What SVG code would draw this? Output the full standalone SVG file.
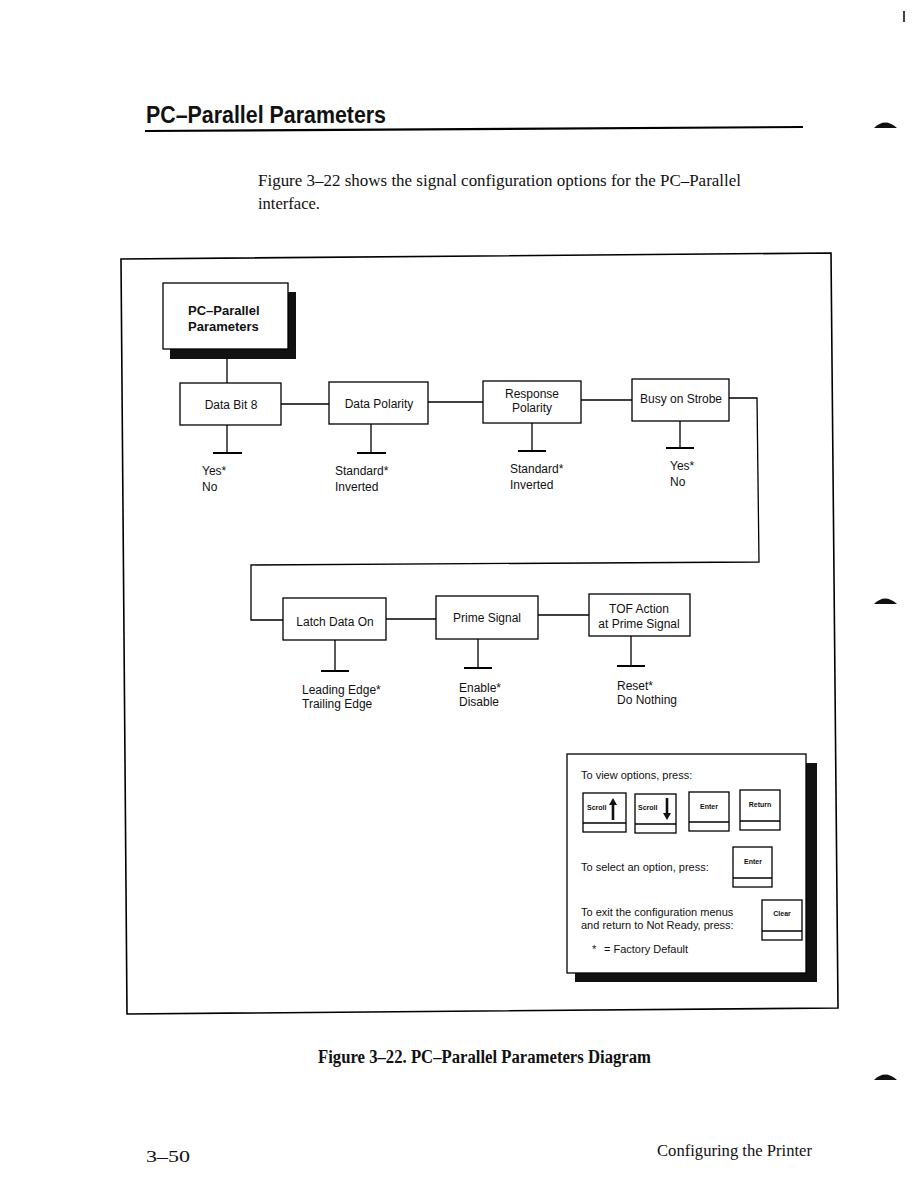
<svg xmlns="http://www.w3.org/2000/svg" width="918" height="1188" viewBox="0 0 918 1188">
<style>
.box{fill:#fff;stroke:#000;stroke-width:1.3}
.ln{fill:none;stroke:#000;stroke-width:1.3}
.bar{stroke:#000;stroke-width:2}
.lbl{font-family:"Liberation Sans",Arial,sans-serif;font-size:12px;fill:#111}
.opt{font-family:"Liberation Sans",Arial,sans-serif;font-size:12px;fill:#111}
.help{font-family:"Liberation Sans",Arial,sans-serif;font-size:11px;fill:#111}
.key{font-family:"Liberation Sans",Arial,sans-serif;font-size:7px;font-weight:bold;fill:#111}
.serif{font-family:"Liberation Serif","Times New Roman",serif;fill:#111}
</style>
<rect width="918" height="1188" fill="#fff"/>
<!-- page header -->
<g id="header">
<text x="146" y="123" font-family="Liberation Sans,Arial,sans-serif" font-weight="bold" font-size="23" textLength="240" lengthAdjust="spacingAndGlyphs" fill="#111">PC–Parallel Parameters</text>
<line x1="145" y1="131" x2="803" y2="127" stroke="#000" stroke-width="2.2"/>
<line x1="904" y1="11" x2="904" y2="22" stroke="#000" stroke-width="1.5"/>
<path d="M874,128 Q885,117 897,128 Z" fill="#111"/>
<path d="M874,604 Q885,593 897,604 Z" fill="#111"/>
<path d="M874,1080 Q885,1069 897,1080 Z" fill="#111"/>
<text class="serif" x="258" y="186" font-size="17" textLength="483" lengthAdjust="spacingAndGlyphs">Figure 3–22 shows the signal configuration options for the PC–Parallel</text>
<text class="serif" x="258" y="209" font-size="17" textLength="62" lengthAdjust="spacingAndGlyphs">interface.</text>
</g>
<!-- frame -->
<polygon points="121,259 831,253 838,1008 127,1014" fill="none" stroke="#000" stroke-width="1.6"/>
<!-- connectors -->
<g id="connectors">
<line class="ln" x1="227" y1="349" x2="227" y2="383"/>
<line class="ln" x1="281" y1="404" x2="329" y2="404"/>
<line class="ln" x1="428" y1="402" x2="483" y2="402"/>
<line class="ln" x1="581" y1="400" x2="632" y2="400"/>
<polyline class="ln" points="729,398 757,398 759,562 251,565 251,620 283,620"/>
<line class="ln" x1="386" y1="619" x2="436" y2="619"/>
<line class="ln" x1="538" y1="615" x2="589" y2="615"/>
<!-- option stems -->
<line class="ln" x1="227" y1="425" x2="227" y2="453"/><line class="bar" x1="213" y1="453" x2="242" y2="453"/>
<line class="ln" x1="371" y1="424" x2="371" y2="453"/><line class="bar" x1="357" y1="453" x2="386" y2="453"/>
<line class="ln" x1="532" y1="423" x2="532" y2="451"/><line class="bar" x1="518" y1="451" x2="546" y2="451"/>
<line class="ln" x1="680" y1="421" x2="680" y2="448"/><line class="bar" x1="666" y1="448" x2="694" y2="448"/>
<line class="ln" x1="335" y1="640" x2="335" y2="671"/><line class="bar" x1="321" y1="671" x2="349" y2="671"/>
<line class="ln" x1="478" y1="639" x2="478" y2="668"/><line class="bar" x1="464" y1="668" x2="492" y2="668"/>
<line class="ln" x1="631" y1="636" x2="631" y2="666"/><line class="bar" x1="617" y1="666" x2="645" y2="666"/>
</g>
<!-- root node -->
<g id="node-root">
<rect x="170" y="292" width="126" height="67" fill="#111"/>
<rect class="box" x="163" y="283" width="125" height="66"/>
<text x="188" y="315" font-family="Liberation Sans,Arial,sans-serif" font-weight="bold" font-size="13" fill="#111">PC–Parallel</text>
<text x="188" y="331" font-family="Liberation Sans,Arial,sans-serif" font-weight="bold" font-size="13" fill="#111">Parameters</text>
</g>
<g id="node-databit8">
<rect class="box" x="180" y="383" width="101" height="42"/>
<text class="lbl" x="231" y="409" text-anchor="middle">Data Bit 8</text>
<text class="opt" x="202" y="475">Yes*</text><text class="opt" x="202" y="491">No</text>
</g>
<g id="node-datapolarity">
<rect class="box" x="329" y="382" width="99" height="42"/>
<text class="lbl" x="379" y="408" text-anchor="middle">Data Polarity</text>
<text class="opt" x="335" y="475">Standard*</text><text class="opt" x="335" y="491">Inverted</text>
</g>
<g id="node-responsepolarity">
<rect class="box" x="483" y="381" width="98" height="42"/>
<text class="lbl" x="532" y="398" text-anchor="middle">Response</text>
<text class="lbl" x="532" y="412" text-anchor="middle">Polarity</text>
<text class="opt" x="510" y="473">Standard*</text><text class="opt" x="510" y="489">Inverted</text>
</g>
<g id="node-busyonstrobe">
<rect class="box" x="632" y="379" width="97" height="42"/>
<text class="lbl" x="681" y="403" text-anchor="middle">Busy on Strobe</text>
<text class="opt" x="670" y="470">Yes*</text><text class="opt" x="670" y="486">No</text>
</g>
<g id="node-latchdataon">
<rect class="box" x="283" y="598" width="103" height="42"/>
<text class="lbl" x="335" y="626" text-anchor="middle">Latch Data On</text>
<text class="opt" x="302" y="694">Leading Edge*</text><text class="opt" x="302" y="708">Trailing Edge</text>
</g>
<g id="node-primesignal">
<rect class="box" x="436" y="596" width="102" height="43"/>
<text class="lbl" x="487" y="622" text-anchor="middle">Prime Signal</text>
<text class="opt" x="459" y="692">Enable*</text><text class="opt" x="459" y="706">Disable</text>
</g>
<g id="node-tofaction">
<rect class="box" x="589" y="594" width="101" height="42"/>
<text class="lbl" x="639" y="613" text-anchor="middle">TOF Action</text>
<text class="lbl" x="639" y="628" text-anchor="middle">at Prime Signal</text>
<text class="opt" x="617" y="690">Reset*</text><text class="opt" x="617" y="704">Do Nothing</text>
</g>
<!-- help box -->
<g id="help">
<rect x="575" y="763" width="242" height="219" fill="#111"/>
<rect class="box" x="567" y="754" width="239" height="219"/>
<text class="help" x="581" y="779">To view options, press:</text>
<rect class="box" x="583" y="793" width="43" height="39"/><line class="ln" x1="583" y1="823" x2="626" y2="823"/>
<text class="key" x="587" y="810">Scroll</text>
<path d="M613,798 L617,805 L614.3,805 L614.3,820 L611.7,820 L611.7,805 L609,805 Z" fill="#111"/>
<rect class="box" x="635" y="794" width="41" height="39"/><line class="ln" x1="635" y1="824" x2="676" y2="824"/>
<text class="key" x="638" y="810">Scroll</text>
<path d="M667,820 L671,813 L668.3,813 L668.3,798 L665.7,798 L665.7,813 L663,813 Z" fill="#111"/>
<rect class="box" x="689" y="792" width="40" height="39"/><line class="ln" x1="689" y1="822" x2="729" y2="822"/>
<text class="key" x="709" y="809" text-anchor="middle">Enter</text>
<rect class="box" x="740" y="790" width="40" height="40"/><line class="ln" x1="740" y1="821" x2="780" y2="821"/>
<text class="key" x="760" y="807" text-anchor="middle">Return</text>
<text class="help" x="581" y="871">To select an option, press:</text>
<rect class="box" x="733" y="847" width="39" height="40"/><line class="ln" x1="733" y1="878" x2="772" y2="878"/>
<text class="key" x="753" y="864" text-anchor="middle">Enter</text>
<text class="help" x="581" y="916">To exit the configuration menus</text>
<text class="help" x="581" y="929">and return to Not Ready, press:</text>
<rect class="box" x="762" y="900" width="40" height="40"/><line class="ln" x1="762" y1="931" x2="802" y2="931"/>
<text class="key" x="782" y="916" text-anchor="middle">Clear</text>
<text class="help" x="592" y="953">*</text>
<text class="help" x="604" y="953">=  Factory Default</text>
</g>
<!-- caption and footer -->
<g id="footer">
<text class="serif" x="318" y="1063" font-size="18" font-weight="bold" textLength="333" lengthAdjust="spacingAndGlyphs">Figure 3–22. PC–Parallel Parameters Diagram</text>
<text class="serif" x="146" y="1162" font-size="17" textLength="44" lengthAdjust="spacingAndGlyphs">3–50</text>
<text class="serif" x="657" y="1156" font-size="17" textLength="155" lengthAdjust="spacingAndGlyphs">Configuring the Printer</text>
</g>
</svg>
